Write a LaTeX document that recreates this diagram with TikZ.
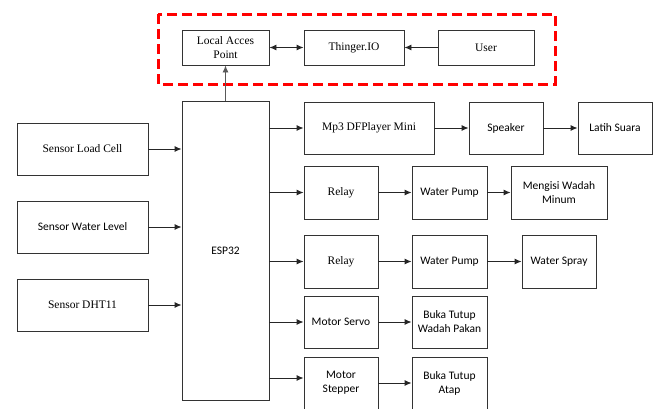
\documentclass[tikz,border=0pt]{standalone}
\usepackage{fontspec}
\setmainfont{Liberation Serif}
\newfontfamily\calfont{Carlito}
\usetikzlibrary{arrows.meta,shadows}
\begin{document}
\begin{tikzpicture}[x=1pt,y=-1pt,
  box/.style={draw=black!80,line width=0.9pt,fill=white,inner sep=0pt,align=center,
    font=\rmfamily\fontsize{11.5}{14}\selectfont,
    drop shadow={shadow xshift=1pt,shadow yshift=-1pt,fill=blue!25!black!20,opacity=0.5}},
  cal/.style={font=\calfont\fontsize{11.5}{14}\selectfont},
  arr/.style={draw=black!85,line width=0.9pt,-{Latex[length=7pt,width=6pt]}},
  darr/.style={draw=black!85,line width=0.9pt,{Latex[length=7pt,width=6pt]}-{Latex[length=7pt,width=6pt]}}]
\useasboundingbox (0,0) rectangle (659,408);
% dashed frame
\draw[red,line width=3pt,dash pattern=on 10pt off 5pt] (158,14) rectangle (555,84);
% top row
\node[box,minimum width=87,minimum height=35] (lap) at (225.5,47.5) {Local Acces\\Point};
\node[box,minimum width=100,minimum height=35] (thg) at (354,47.5) {Thinger.IO};
\node[box,minimum width=96,minimum height=35] (usr) at (486,47.5) {User};
% ESP32
\node[box,cal,minimum width=87,minimum height=299] (esp) at (225.5,250.5) {ESP32};
% sensors
\node[box,minimum width=131,minimum height=52] (slc) at (82.5,149) {Sensor Load Cell};
\node[box,cal,minimum width=131,minimum height=52] (swl) at (82.5,227) {Sensor Water Level};
\node[box,minimum width=131,minimum height=52] (sdh) at (82.5,305) {Sensor DHT11};
% outputs
\node[box,minimum width=130,minimum height=52] (mp3) at (369,128) {Mp3 DFPlayer Mini};
\node[box,cal,minimum width=74,minimum height=52] (spk) at (506,128) {Speaker};
\node[box,cal,minimum width=74,minimum height=52] (lat) at (615,128) {Latih Suara};
\node[box,minimum width=74,minimum height=53] (rl1) at (341,192.5) {Relay};
\node[box,cal,minimum width=75,minimum height=53] (wp1) at (449.5,192.5) {Water Pump};
\node[box,cal,minimum width=96,minimum height=53] (mwm) at (559,192.5) {Mengisi Wadah\\Minum};
\node[box,minimum width=74,minimum height=53] (rl2) at (341,261.5) {Relay};
\node[box,cal,minimum width=75,minimum height=53] (wp2) at (449.5,261.5) {Water Pump};
\node[box,cal,minimum width=74,minimum height=53] (wsp) at (559,261.5) {Water Spray};
\node[box,cal,minimum width=74,minimum height=52] (srv) at (341,322) {Motor Servo};
\node[box,cal,minimum width=75,minimum height=52] (bt1) at (449.5,322) {Buka Tutup\\Wadah Pakan};
\node[box,cal,minimum width=74,minimum height=52] (stp) at (341,383) {Motor\\Stepper};
\node[box,cal,minimum width=75,minimum height=52] (bt2) at (449.5,383) {Buka Tutup\\Atap};
% connectors
\draw[darr] (lap) -- (thg);
\draw[arr] (usr) -- (thg);
\draw[arr,draw=black!65] (esp.north) -- (lap.south);
\draw[arr] (slc.east) -- (esp.west |- slc.east);
\draw[arr] (swl.east) -- (esp.west |- swl.east);
\draw[arr] (sdh.east) -- (esp.west |- sdh.east);
\draw[arr] (esp.east |- mp3.west) -- (mp3.west);
\draw[arr] (mp3) -- (spk);
\draw[arr] (spk) -- (lat);
\draw[arr] (esp.east |- rl1.west) -- (rl1.west);
\draw[arr] (rl1) -- (wp1);
\draw[arr] (wp1) -- (mwm);
\draw[arr] (esp.east |- rl2.west) -- (rl2.west);
\draw[arr] (rl2) -- (wp2);
\draw[arr] (wp2) -- (wsp);
\draw[arr] (esp.east |- srv.west) -- (srv.west);
\draw[arr] (srv) -- (bt1);
\draw[arr] (esp.east |- 0,378) -- (stp.west |- 0,378);
\draw[arr] (stp) -- (bt2);
\end{tikzpicture}
\end{document}
